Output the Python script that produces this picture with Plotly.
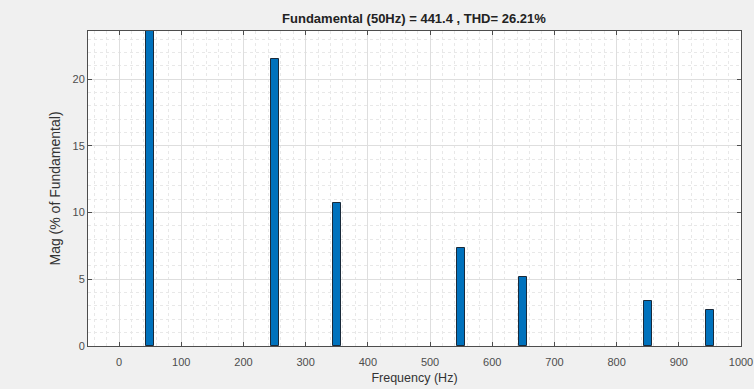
import plotly.graph_objects as go

freq_hz = [50, 250, 350, 550, 650, 850, 950]
mag_pct = [100.0, 21.5, 10.7, 7.35, 5.2, 3.4, 2.7]
x_ticks = [0, 100, 200, 300, 400, 500, 600, 700, 800, 900, 1000]
y_ticks = [0, 5, 10, 15, 20]
title_text = "Fundamental (50Hz) = 441.4 , THD= 26.21%"

fig = go.Figure()
fig.add_trace(go.Bar(
    x=freq_hz, y=mag_pct, width=13,
    marker=dict(color="#0072BD", line=dict(color="#1a2a3a", width=1)),
))

axis_common = dict(
    showline=True, linecolor="#4d4d4d", linewidth=1, mirror="ticks",
    ticks="inside", ticklen=4, tickcolor="#4d4d4d",
    showgrid=True, gridcolor="#dedede", gridwidth=1,
    zeroline=False, automargin=False,
    tickfont=dict(family="Liberation Sans, Arial", size=11, color="#4d4d4d"),
)

fig.update_layout(
    width=754, height=389, autosize=False,
    margin=dict(l=88, r=13, t=31, b=43, pad=0),
    paper_bgcolor="#f0f0f0", plot_bgcolor="white",
    showlegend=False,
    title=dict(text="<b>" + title_text + "</b>", x=0.549, xanchor="center",
               y=0.952, yanchor="middle",
               font=dict(family="Liberation Sans, Arial", size=13, color="#222")),
    xaxis=dict(range=[-50, 1000], autorange=False, tickvals=x_ticks,
               ticklabelstandoff=6,
               title=dict(text="Frequency (Hz)", standoff=6,
                          font=dict(family="Liberation Sans, Arial", size=12.5, color="#333")),
               minor=dict(dtick=20, tick0=0, showgrid=True, gridcolor="#e8e8e8", griddash="dot", ticks=""),
               **axis_common),
    yaxis=dict(range=[0, 23.6], autorange=False, tickvals=y_ticks,
               title=dict(text="Mag (% of Fundamental)", standoff=8,
                          font=dict(family="Liberation Sans, Arial", size=14, color="#333")),
               minor=dict(dtick=1, tick0=0, showgrid=True, gridcolor="#e8e8e8", griddash="dot", ticks=""),
               **axis_common),
    bargap=0,
)

fig.write_html("out.html", config={"responsive": False})
